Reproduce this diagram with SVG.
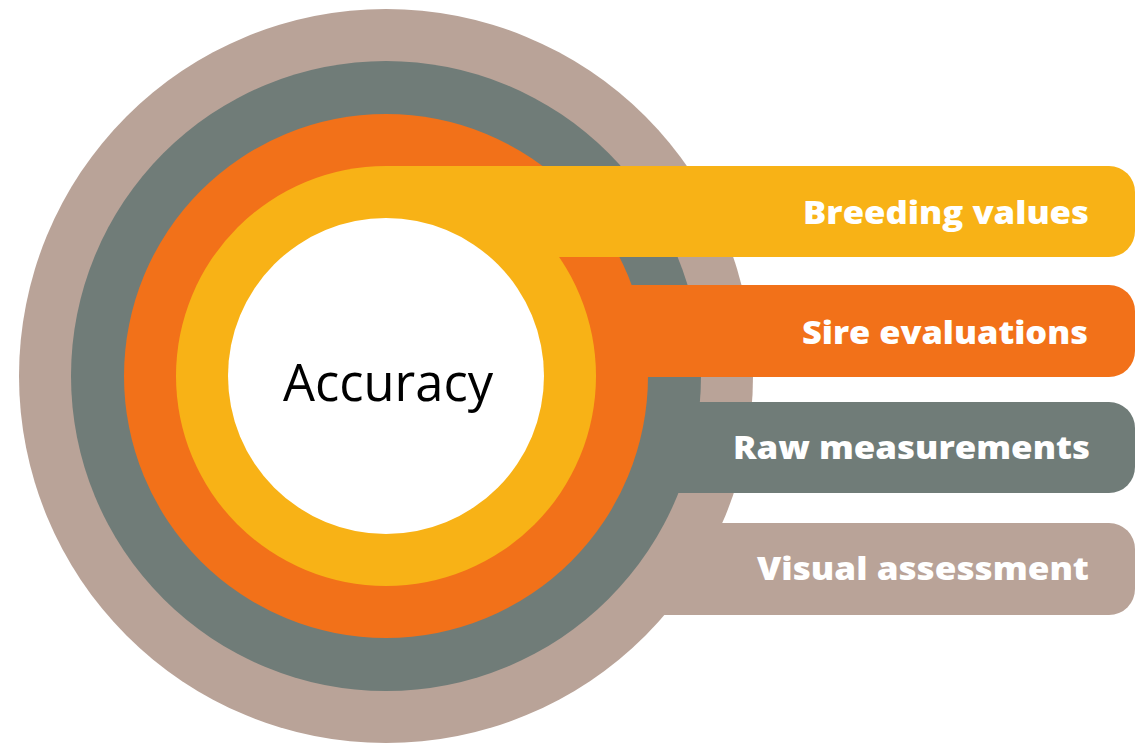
<svg xmlns="http://www.w3.org/2000/svg" width="1135" height="746" viewBox="0 0 1135 746">
<style>
.beige{fill:#B9A398}
.gray{fill:#707C78}
.orange{fill:#F27119}
.yellow{fill:#F8B216}
.lbl{font-family:"Open Sans","Liberation Sans",sans-serif;font-weight:800;font-size:32px;fill:#FFFFFF;text-anchor:end}
.center{font-family:"Open Sans","Liberation Sans",sans-serif;font-size:51px;fill:#000000;text-anchor:middle}
</style>
<rect width="1135" height="746" fill="#FFFFFF"/>
<g id="visual-assessment">
<circle class="beige" cx="386" cy="376" r="367"/>
<path class="beige" d="M386,523 H1109 A26,26 0 0 1 1135,549 V589 A26,26 0 0 1 1109,615 H386 Z"/>
<text class="lbl" x="1089" y="580" textLength="332" lengthAdjust="spacingAndGlyphs">Visual assessment</text>
</g>
<g id="raw-measurements">
<circle class="gray" cx="386" cy="376" r="315"/>
<path class="gray" d="M386,402 H1109 A26,26 0 0 1 1135,428 V467 A26,26 0 0 1 1109,493 H386 Z"/>
<text class="lbl" x="1090" y="459" textLength="357" lengthAdjust="spacingAndGlyphs">Raw measurements</text>
</g>
<g id="sire-evaluations">
<circle class="orange" cx="386" cy="376" r="262"/>
<path class="orange" d="M386,285 H1109 A26,26 0 0 1 1135,311 V351 A26,26 0 0 1 1109,377 H386 Z"/>
<text class="lbl" x="1088" y="344" textLength="286" lengthAdjust="spacingAndGlyphs">Sire evaluations</text>
</g>
<g id="breeding-values">
<circle class="yellow" cx="386" cy="376" r="210"/>
<path class="yellow" d="M386,166 H1109 A26,26 0 0 1 1135,192 V231 A26,26 0 0 1 1109,257 H386 Z"/>
<text class="lbl" x="1089" y="224" textLength="286" lengthAdjust="spacingAndGlyphs">Breeding values</text>
</g>
<g id="accuracy">
<circle cx="386" cy="376" r="158" fill="#FFFFFF"/>
<text class="center" x="388" y="401" textLength="210" lengthAdjust="spacingAndGlyphs">Accuracy</text>
</g>
</svg>
